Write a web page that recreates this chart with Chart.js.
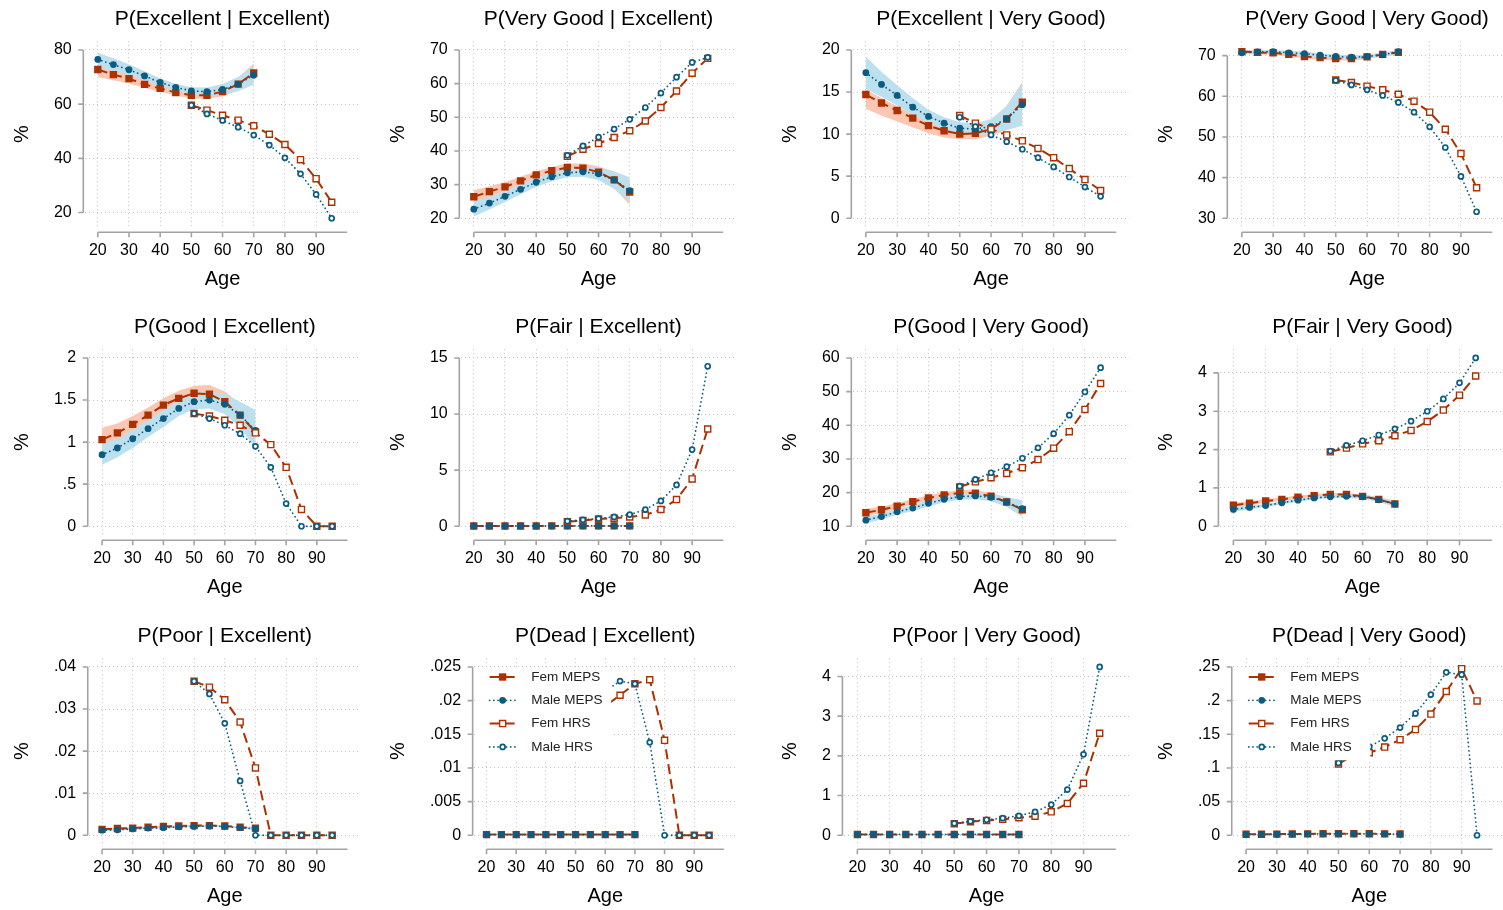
<!DOCTYPE html>
<html>
<head>
<meta charset="utf-8">
<script src="https://cdn.jsdelivr.net/npm/chart.js@4.4.1/dist/chart.umd.min.js"></script>
<style>
  html, body { margin: 0; padding: 0; background: #fff; width: 1503px; height: 910px; overflow: hidden; }
  canvas.panel { position: absolute; }
</style>
</head>
<body>
<script>
// ages on the x axis
const agesMeps = [20, 25, 30, 35, 40, 45, 50, 55, 60, 65, 70];
const agesHrs = [50, 55, 60, 65, 70, 75, 80, 85, 90, 95];
const ageTicks = [20, 30, 40, 50, 60, 70, 80, 90];

// P(Excellent | Excellent)
const exExTicks = [20, 40, 60, 80];
const exExFemMeps = [72.8, 70.9, 69.4, 67.3, 65.8, 64.3, 63.3, 63.3, 64.6, 67.4, 71.5];
const exExMaleMeps = [76.5, 74.6, 72.7, 70.4, 68.0, 66.2, 64.9, 64.6, 65.4, 67.4, 70.7];
const exExFemHrs = [59.6, 57.8, 55.9, 54.1, 52.0, 48.9, 45.1, 39.5, 32.5, 23.8];
const exExMaleHrs = [59.6, 56.4, 54.0, 51.5, 48.6, 44.9, 40.2, 34.3, 26.7, 17.9];
const exExFemLo = [70.0, 68.8, 67.6, 66.0, 64.6, 63.2, 62.1, 62.0, 62.8, 65.0, 68.0];
const exExFemHi = [75.0, 72.9, 71.2, 68.8, 67.1, 65.5, 64.5, 64.7, 66.5, 69.8, 75.0];
const exExMaleLo = [73.5, 72.3, 70.8, 68.8, 66.6, 64.9, 63.6, 63.1, 63.5, 64.8, 67.2];
const exExMaleHi = [79.0, 76.9, 74.7, 72.1, 69.5, 67.5, 66.2, 66.1, 67.4, 70.0, 74.3];

// P(Very Good | Excellent)
const vgExTicks = [20, 30, 40, 50, 60, 70];
const vgExFemMeps = [26.4, 27.9, 29.3, 31.1, 32.9, 34.1, 35.1, 34.9, 33.7, 31.4, 27.8];
const vgExMaleMeps = [22.7, 24.5, 26.5, 28.6, 30.7, 32.3, 33.5, 33.8, 33.2, 31.4, 28.2];
const vgExFemHrs = [38.4, 40.5, 42.2, 44.0, 46.0, 48.9, 52.9, 57.8, 63.1, 67.5];
const vgExMaleHrs = [38.7, 41.5, 44.1, 46.5, 49.4, 52.9, 57.2, 61.9, 66.3, 67.8];
const vgExFemLo = [24.6, 26.3, 28.0, 29.9, 31.8, 33.0, 34.0, 33.6, 32.0, 28.9, 24.0];
const vgExFemHi = [28.3, 29.5, 30.7, 32.3, 34.0, 35.2, 36.3, 36.3, 35.4, 33.9, 31.5];
const vgExMaleLo = [20.5, 22.6, 24.8, 27.1, 29.3, 31.0, 32.2, 32.3, 31.4, 28.7, 24.8];
const vgExMaleHi = [25.0, 26.4, 28.2, 30.1, 32.1, 33.6, 34.8, 35.3, 35.0, 33.9, 32.2];

// P(Excellent | Very Good)
const exVgTicks = [0, 5, 10, 15, 20];
const exVgFemMeps = [14.7, 13.7, 12.8, 11.9, 11.0, 10.4, 10.0, 10.1, 10.6, 11.8, 13.8];
const exVgMaleMeps = [17.3, 15.9, 14.6, 13.2, 12.1, 11.3, 10.7, 10.6, 10.9, 11.8, 13.5];
const exVgFemHrs = [12.2, 11.3, 10.6, 9.9, 9.2, 8.3, 7.2, 5.9, 4.6, 3.3];
const exVgMaleHrs = [12.0, 10.9, 9.9, 9.1, 8.2, 7.2, 6.1, 4.9, 3.7, 2.6];
const exVgFemLo = [13.0, 12.2, 11.5, 10.8, 10.1, 9.6, 9.4, 9.4, 9.8, 10.5, 11.2];
const exVgFemHi = [15.3, 14.3, 13.3, 12.4, 11.6, 10.9, 10.6, 10.8, 11.5, 13.4, 16.2];
const exVgMaleLo = [15.4, 14.4, 13.4, 12.3, 11.4, 10.6, 10.0, 9.9, 10.0, 10.5, 11.0];
const exVgMaleHi = [19.2, 17.4, 15.8, 14.3, 12.9, 12.0, 11.4, 11.3, 11.8, 13.3, 16.0];

// P(Very Good | Very Good)
const vgVgTicks = [30, 40, 50, 60, 70];
const vgVgFemMeps = [71.0, 70.8, 70.7, 70.3, 69.8, 69.5, 69.3, 69.3, 69.7, 70.3, 70.8];
const vgVgMaleMeps = [70.7, 70.9, 71.0, 70.7, 70.5, 70.1, 69.8, 69.6, 69.8, 70.2, 71.0];
const vgVgFemHrs = [64.0, 63.4, 62.5, 61.6, 60.5, 58.8, 56.1, 51.9, 45.9, 37.5];
const vgVgMaleHrs = [63.9, 62.8, 61.6, 60.2, 58.5, 56.1, 52.5, 47.4, 40.3, 31.6];
const vgVgFemLo = [70.5, 70.3, 70.2, 69.8, 69.3, 69.0, 68.8, 68.8, 69.2, 69.8, 70.2];
const vgVgFemHi = [71.4, 71.3, 71.2, 70.8, 70.3, 70.0, 69.8, 69.8, 70.2, 70.8, 71.3];
const vgVgMaleLo = [70.2, 70.4, 70.5, 70.2, 70.0, 69.6, 69.3, 69.1, 69.3, 69.7, 70.4];
const vgVgMaleHi = [71.2, 71.3, 71.4, 71.2, 71.0, 70.6, 70.3, 70.1, 70.3, 70.7, 71.4];

// P(Good | Excellent)
const gdExTicks = [0, 0.5, 1, 1.5, 2];
const gdExFemMeps = [1.03, 1.11, 1.21, 1.32, 1.44, 1.52, 1.58, 1.57, 1.48, 1.32, 1.12];
const gdExMaleMeps = [0.85, 0.93, 1.04, 1.16, 1.28, 1.40, 1.48, 1.50, 1.45, 1.32, 1.14];
const gdExFemHrs = [1.34, 1.31, 1.26, 1.20, 1.11, 0.97, 0.70, 0.20, 0, 0];
const gdExMaleHrs = [1.34, 1.28, 1.20, 1.10, 0.95, 0.70, 0.27, 0, 0, 0];
const gdExFemLo = [0.90, 0.99, 1.10, 1.22, 1.34, 1.43, 1.49, 1.47, 1.37, 1.19, 0.96];
const gdExFemHi = [1.17, 1.22, 1.31, 1.41, 1.52, 1.61, 1.67, 1.68, 1.60, 1.46, 1.30];
const gdExMaleLo = [0.73, 0.82, 0.93, 1.06, 1.18, 1.31, 1.39, 1.40, 1.33, 1.17, 0.93];
const gdExMaleHi = [0.98, 1.04, 1.14, 1.26, 1.38, 1.49, 1.58, 1.60, 1.57, 1.48, 1.38];

// P(Fair | Excellent)
const frExTicks = [0, 5, 10, 15];
const frExFemMeps = [0.02, 0.02, 0.02, 0.02, 0.02, 0.03, 0.03, 0.03, 0.03, 0.03, 0.03];
const frExMaleMeps = [0.02, 0.02, 0.02, 0.02, 0.02, 0.02, 0.03, 0.03, 0.03, 0.03, 0.03];
const frExFemHrs = [0.40, 0.52, 0.65, 0.71, 0.83, 1.00, 1.49, 2.38, 4.22, 8.67];
const frExMaleHrs = [0.45, 0.57, 0.68, 0.83, 1.04, 1.49, 2.26, 3.68, 6.83, 14.26];
const frExFemLo = [0.01, 0.01, 0.01, 0.01, 0.01, 0.01, 0.01, 0.01, 0.01, 0.01, 0.01];
const frExFemHi = [0.04, 0.04, 0.04, 0.04, 0.04, 0.05, 0.05, 0.05, 0.05, 0.05, 0.06];
const frExMaleLo = [0.01, 0.01, 0.01, 0.01, 0.01, 0.01, 0.01, 0.01, 0.01, 0.01, 0.01];
const frExMaleHi = [0.04, 0.04, 0.04, 0.04, 0.04, 0.04, 0.05, 0.05, 0.05, 0.05, 0.06];

// P(Good | Very Good)
const gdVgTicks = [10, 20, 30, 40, 50, 60];
const gdVgFemMeps = [14.0, 14.9, 16.0, 17.3, 18.4, 19.3, 19.9, 19.8, 18.9, 17.2, 14.9];
const gdVgMaleMeps = [11.8, 12.9, 14.3, 15.4, 16.8, 18.0, 18.8, 19.0, 18.6, 17.2, 15.2];
const gdVgFemHrs = [21.7, 23.2, 24.4, 25.7, 27.4, 29.8, 33.2, 38.1, 44.7, 52.4];
const gdVgMaleHrs = [21.9, 23.9, 25.9, 27.7, 30.2, 33.3, 37.5, 43.0, 49.9, 57.1];
const gdVgFemLo = [13.0, 14.0, 15.2, 16.5, 17.6, 18.5, 19.1, 18.9, 17.9, 15.9, 13.2];
const gdVgFemHi = [15.2, 15.9, 16.9, 18.1, 19.2, 20.1, 20.7, 20.8, 19.9, 18.5, 16.7];
const gdVgMaleLo = [10.8, 12.0, 13.4, 14.5, 15.9, 17.1, 17.9, 18.0, 17.4, 15.7, 12.8];
const gdVgMaleHi = [12.9, 13.8, 15.2, 16.3, 17.7, 18.9, 19.7, 20.0, 19.8, 18.7, 17.7];

// P(Fair | Very Good)
const frVgTicks = [0, 1, 2, 3, 4];
const frVgFemMeps = [0.55, 0.60, 0.66, 0.70, 0.76, 0.80, 0.83, 0.83, 0.78, 0.70, 0.58];
const frVgMaleMeps = [0.44, 0.49, 0.54, 0.61, 0.68, 0.74, 0.77, 0.78, 0.77, 0.69, 0.58];
const frVgFemHrs = [1.94, 2.04, 2.15, 2.23, 2.36, 2.50, 2.73, 3.03, 3.42, 3.92];
const frVgMaleHrs = [1.96, 2.11, 2.23, 2.38, 2.54, 2.74, 3.00, 3.32, 3.74, 4.39];
const frVgFemLo = [0.49, 0.55, 0.61, 0.66, 0.72, 0.76, 0.79, 0.79, 0.74, 0.65, 0.51];
const frVgFemHi = [0.61, 0.65, 0.71, 0.75, 0.80, 0.84, 0.87, 0.87, 0.83, 0.76, 0.65];
const frVgMaleLo = [0.38, 0.44, 0.50, 0.57, 0.64, 0.70, 0.73, 0.74, 0.72, 0.63, 0.50];
const frVgMaleHi = [0.50, 0.54, 0.58, 0.65, 0.72, 0.78, 0.81, 0.83, 0.82, 0.76, 0.67];

// P(Poor | Excellent)
const prExTicks = [0, 0.01, 0.02, 0.03, 0.04];
const prExFemMeps = [0.0014, 0.0016, 0.0017, 0.0019, 0.0021, 0.0022, 0.0023, 0.0023, 0.0022, 0.0019, 0.0017];
const prExMaleMeps = [0.0012, 0.0013, 0.0015, 0.0017, 0.0018, 0.0020, 0.0021, 0.0022, 0.0021, 0.0018, 0.0015];
const prExFemHrs = [0.0366, 0.0352, 0.0322, 0.0269, 0.0160, 0, 0, 0, 0, 0];
const prExMaleHrs = [0.0366, 0.0336, 0.0266, 0.0129, 0, 0, 0, 0, 0, 0];
const prExFemLo = [0.0012, 0.0014, 0.0015, 0.0017, 0.0019, 0.0020, 0.0021, 0.0021, 0.0020, 0.0017, 0.0014];
const prExFemHi = [0.0016, 0.0018, 0.0019, 0.0021, 0.0023, 0.0024, 0.0025, 0.0025, 0.0024, 0.0021, 0.0020];
const prExMaleLo = [0.0010, 0.0011, 0.0013, 0.0015, 0.0016, 0.0018, 0.0019, 0.0020, 0.0019, 0.0016, 0.0012];
const prExMaleHi = [0.0014, 0.0015, 0.0017, 0.0019, 0.0020, 0.0022, 0.0023, 0.0024, 0.0023, 0.0020, 0.0018];

// P(Dead | Excellent)
const ddExTicks = [0, 0.005, 0.01, 0.015, 0.02, 0.025];
const ddExFemMeps = [0.0001, 0.0001, 0.0001, 0.0001, 0.0001, 0.0001, 0.0001, 0.0001, 0.0001, 0.0001, 0.0001];
const ddExMaleMeps = [0.0001, 0.0001, 0.0001, 0.0001, 0.0001, 0.0001, 0.0001, 0.0001, 0.0001, 0.0001, 0.0001];
const ddExFemHrs = [0.0150, 0.0172, 0.0192, 0.0208, 0.0225, 0.0231, 0.0141, 0, 0, 0];
const ddExMaleHrs = [0.0172, 0.0195, 0.0214, 0.0229, 0.0225, 0.0138, 0, 0, 0, 0];
const ddExFemLo = [0.00005, 0.00005, 0.00005, 0.00005, 0.00005, 0.00005, 0.00005, 0.00005, 0.00005, 0.00005, 0.00005];
const ddExFemHi = [0.00015, 0.00015, 0.00015, 0.00015, 0.00015, 0.00015, 0.00015, 0.00015, 0.00015, 0.00015, 0.00015];
const ddExMaleLo = [0.00005, 0.00005, 0.00005, 0.00005, 0.00005, 0.00005, 0.00005, 0.00005, 0.00005, 0.00005, 0.00005];
const ddExMaleHi = [0.00015, 0.00015, 0.00015, 0.00015, 0.00015, 0.00015, 0.00015, 0.00015, 0.00015, 0.00015, 0.00015];

// P(Poor | Very Good)
const prVgTicks = [0, 1, 2, 3, 4];
const prVgFemMeps = [0.02, 0.02, 0.02, 0.02, 0.02, 0.02, 0.02, 0.02, 0.02, 0.02, 0.02];
const prVgMaleMeps = [0.02, 0.02, 0.02, 0.02, 0.02, 0.02, 0.02, 0.02, 0.02, 0.02, 0.02];
const prVgFemHrs = [0.29, 0.34, 0.37, 0.40, 0.44, 0.48, 0.59, 0.80, 1.31, 2.57];
const prVgMaleHrs = [0.30, 0.35, 0.39, 0.43, 0.49, 0.59, 0.77, 1.15, 2.04, 4.24];
const prVgFemLo = [0.01, 0.01, 0.01, 0.01, 0.01, 0.01, 0.01, 0.01, 0.01, 0.01, 0.01];
const prVgFemHi = [0.03, 0.03, 0.03, 0.03, 0.03, 0.03, 0.03, 0.03, 0.03, 0.03, 0.04];
const prVgMaleLo = [0.01, 0.01, 0.01, 0.01, 0.01, 0.01, 0.01, 0.01, 0.01, 0.01, 0.01];
const prVgMaleHi = [0.03, 0.03, 0.03, 0.03, 0.03, 0.03, 0.03, 0.03, 0.03, 0.03, 0.04];

// P(Dead | Very Good)
const ddVgTicks = [0, 0.05, 0.1, 0.15, 0.2, 0.25];
const ddVgFemMeps = [0.0015, 0.0015, 0.0017, 0.0018, 0.0020, 0.0022, 0.0023, 0.0023, 0.0023, 0.0020, 0.0018];
const ddVgMaleMeps = [0.0013, 0.0014, 0.0015, 0.0017, 0.0019, 0.0021, 0.0022, 0.0022, 0.0021, 0.0019, 0.0016];
const ddVgFemHrs = [0.106, 0.119, 0.1225, 0.131, 0.142, 0.157, 0.180, 0.2135, 0.2475, 0.1995];
const ddVgMaleHrs = [0.1075, 0.123, 0.1315, 0.144, 0.160, 0.181, 0.209, 0.242, 0.2385, 0];
const ddVgFemLo = [0.0012, 0.0012, 0.0014, 0.0015, 0.0017, 0.0019, 0.0020, 0.0020, 0.0020, 0.0016, 0.0013];
const ddVgFemHi = [0.0018, 0.0018, 0.0020, 0.0021, 0.0023, 0.0025, 0.0026, 0.0026, 0.0026, 0.0024, 0.0023];
const ddVgMaleLo = [0.0010, 0.0011, 0.0012, 0.0014, 0.0016, 0.0018, 0.0019, 0.0019, 0.0018, 0.0015, 0.0011];
const ddVgMaleHi = [0.0016, 0.0017, 0.0018, 0.0020, 0.0022, 0.0024, 0.0025, 0.0025, 0.0024, 0.0023, 0.0021];

const panels = [
  ['P(Excellent | Excellent)', exExTicks, exExFemMeps, exExMaleMeps, exExFemHrs, exExMaleHrs, exExFemLo, exExFemHi, exExMaleLo, exExMaleHi, false],
  ['P(Very Good | Excellent)', vgExTicks, vgExFemMeps, vgExMaleMeps, vgExFemHrs, vgExMaleHrs, vgExFemLo, vgExFemHi, vgExMaleLo, vgExMaleHi, false],
  ['P(Excellent | Very Good)', exVgTicks, exVgFemMeps, exVgMaleMeps, exVgFemHrs, exVgMaleHrs, exVgFemLo, exVgFemHi, exVgMaleLo, exVgMaleHi, false],
  ['P(Very Good | Very Good)', vgVgTicks, vgVgFemMeps, vgVgMaleMeps, vgVgFemHrs, vgVgMaleHrs, vgVgFemLo, vgVgFemHi, vgVgMaleLo, vgVgMaleHi, false],
  ['P(Good | Excellent)', gdExTicks, gdExFemMeps, gdExMaleMeps, gdExFemHrs, gdExMaleHrs, gdExFemLo, gdExFemHi, gdExMaleLo, gdExMaleHi, false],
  ['P(Fair | Excellent)', frExTicks, frExFemMeps, frExMaleMeps, frExFemHrs, frExMaleHrs, frExFemLo, frExFemHi, frExMaleLo, frExMaleHi, false],
  ['P(Good | Very Good)', gdVgTicks, gdVgFemMeps, gdVgMaleMeps, gdVgFemHrs, gdVgMaleHrs, gdVgFemLo, gdVgFemHi, gdVgMaleLo, gdVgMaleHi, false],
  ['P(Fair | Very Good)', frVgTicks, frVgFemMeps, frVgMaleMeps, frVgFemHrs, frVgMaleHrs, frVgFemLo, frVgFemHi, frVgMaleLo, frVgMaleHi, false],
  ['P(Poor | Excellent)', prExTicks, prExFemMeps, prExMaleMeps, prExFemHrs, prExMaleHrs, prExFemLo, prExFemHi, prExMaleLo, prExMaleHi, false],
  ['P(Dead | Excellent)', ddExTicks, ddExFemMeps, ddExMaleMeps, ddExFemHrs, ddExMaleHrs, ddExFemLo, ddExFemHi, ddExMaleLo, ddExMaleHi, true],
  ['P(Poor | Very Good)', prVgTicks, prVgFemMeps, prVgMaleMeps, prVgFemHrs, prVgMaleHrs, prVgFemLo, prVgFemHi, prVgMaleLo, prVgMaleHi, false],
  ['P(Dead | Very Good)', ddVgTicks, ddVgFemMeps, ddVgMaleMeps, ddVgFemHrs, ddVgMaleHrs, ddVgFemLo, ddVgFemHi, ddVgMaleLo, ddVgMaleHi, true]
];

// page grid
const colLeft = [10, 386, 778, 1154];
const colWidth = [356, 356, 357, 357];
const rowTop = [0, 308, 617];
const panelHeight = 302;

const RED = '#ad3000';
const BLUE = '#0b5c80';
const RED_BAND = '#fbc6b2';
const BLUE_BAND = '#bde0ef';
const GRID = '#c4c4c4';
const AXIS = '#a3a3a3';
const FEM_DASH = [10, 5];
const MALE_DASH = [0.01, 4.2];

Chart.defaults.font.family = '"Liberation Sans", Arial, Helvetica, sans-serif';
Chart.defaults.color = '#000';

function stataNum(v) {
  return String(+(+v).toFixed(4)).replace(/^0\./, '.').replace(/^-0\./, '-.');
}

function points(ages, vals) {
  return ages.map((a, i) => ({ x: a, y: vals[i] }));
}

// outward axis lines (only over the tick range), tick marks, panel title, legend box
const stataFrame = {
  id: 'stataFrame',
  afterDatasetsDraw(chart, args, opts) {
    if (!opts.legend) return;
    const { ctx, chartArea: a } = chart;
    ctx.save();
    ctx.fillStyle = '#fff';
    ctx.fillRect(a.left + 1, a.top + 12, 136, 90);
    chart.data.datasets.filter(d => d.label).forEach((d, i) => {
      const y = a.top + 18.8 + i * 23.3;
      const x0 = a.left + 15.5, x1 = a.left + 42, xm = a.left + 28.5;
      ctx.strokeStyle = d.borderColor;
      ctx.lineWidth = d.borderWidth;
      ctx.lineCap = d.borderCapStyle || 'butt';
      ctx.setLineDash(d.borderDash);
      ctx.beginPath();
      ctx.moveTo(x0, y);
      ctx.lineTo(x1, y);
      ctx.stroke();
      ctx.setLineDash([]);
      ctx.lineCap = 'butt';
      ctx.fillStyle = d.pointBackgroundColor;
      ctx.strokeStyle = d.pointBorderColor;
      ctx.lineWidth = d.pointBorderWidth;
      ctx.beginPath();
      if (d.pointStyle === 'rect') {
        const s = d.pointRadius * Math.SQRT1_2;
        ctx.rect(xm - s, y - s, 2 * s, 2 * s);
      } else {
        ctx.arc(xm, y, d.pointRadius, 0, Math.PI * 2);
      }
      ctx.fill();
      if (d.pointBorderWidth > 0) ctx.stroke();
      ctx.fillStyle = '#222';
      ctx.font = '13.5px "Liberation Sans", Arial, sans-serif';
      ctx.textAlign = 'left';
      ctx.textBaseline = 'middle';
      ctx.fillText(d.label, a.left + 57, y);
    });
    ctx.restore();
  },
  afterDraw(chart, args, opts) {
    const { ctx, chartArea: a, scales: { x, y } } = chart;
    const ticks = opts.ticks;
    ctx.save();
    ctx.strokeStyle = AXIS;
    ctx.lineWidth = 1.6;
    ctx.beginPath();
    const ax = a.left - 1.5;
    ctx.moveTo(ax, y.getPixelForValue(ticks[ticks.length - 1]));
    ctx.lineTo(ax, y.getPixelForValue(ticks[0]));
    ticks.forEach(t => {
      const py = y.getPixelForValue(t);
      ctx.moveTo(ax - 5, py);
      ctx.lineTo(ax, py);
    });
    const ay = a.bottom + 5.2;
    ctx.moveTo(x.getPixelForValue(20), ay);
    ctx.lineTo(x.getPixelForValue(100), ay);
    ageTicks.forEach(t => {
      const px = x.getPixelForValue(t);
      ctx.moveTo(px, ay);
      ctx.lineTo(px, ay + 5);
    });
    ctx.stroke();
    ctx.fillStyle = '#000';
    ctx.font = '21px "Liberation Sans", Arial, sans-serif';
    ctx.textAlign = 'center';
    ctx.textBaseline = 'middle';
    ctx.fillText(opts.title, (a.left + a.right) / 2, 19.5);
    ctx.restore();
  }
};

panels.forEach((p, idx) => {
  const [title, ticks, femMeps, maleMeps, femHrs, maleHrs, femLo, femHi, maleLo, maleHi, legend] = p;
  const col = idx % 4, row = Math.floor(idx / 4);

  // value range covers the data, the bands and the labelled ticks
  const all = [...ticks, ...femMeps, ...maleMeps, ...femHrs, ...maleHrs, ...femLo, ...femHi, ...maleLo, ...maleHi];
  const lo = Math.min(...all), hi = Math.max(...all);
  const pad = (hi - lo) * 0.052;

  const canvas = document.createElement('canvas');
  canvas.className = 'panel';
  canvas.width = colWidth[col];
  canvas.height = panelHeight;
  canvas.style.left = colLeft[col] + 'px';
  canvas.style.top = rowTop[row] + 'px';
  canvas.style.width = colWidth[col] + 'px';
  canvas.style.height = panelHeight + 'px';
  document.body.appendChild(canvas);

  const band = (vals, color, fill, order) => ({
    data: points(agesMeps, vals),
    fill: fill,
    backgroundColor: color,
    borderColor: 'rgba(0,0,0,0)',
    borderWidth: 0,
    pointRadius: 0,
    order: order
  });

  const datasets = [
    band(femHi, RED_BAND, '+1', 6),
    band(femLo, RED_BAND, false, 6),
    band(maleHi, BLUE_BAND, '+1', 5),
    band(maleLo, BLUE_BAND, false, 5),
    {
      label: 'Fem MEPS', data: points(agesMeps, femMeps), order: 4,
      borderColor: RED, borderWidth: 2, borderDash: FEM_DASH,
      pointStyle: 'rect', pointRadius: 5.2, pointBackgroundColor: RED, pointBorderColor: RED, pointBorderWidth: 0
    },
    {
      label: 'Male MEPS', data: points(agesMeps, maleMeps), order: 3,
      borderColor: BLUE, borderWidth: 1.8, borderDash: MALE_DASH, borderCapStyle: 'round',
      pointStyle: 'circle', pointRadius: 3.4, pointBackgroundColor: BLUE, pointBorderColor: BLUE, pointBorderWidth: 0
    },
    {
      label: 'Fem HRS', data: points(agesHrs, femHrs), order: 2,
      borderColor: RED, borderWidth: 2, borderDash: FEM_DASH,
      pointStyle: 'rect', pointRadius: 4.3, pointBackgroundColor: '#fff', pointBorderColor: RED, pointBorderWidth: 1.4
    },
    {
      label: 'Male HRS', data: points(agesHrs, maleHrs), order: 1,
      borderColor: BLUE, borderWidth: 1.8, borderDash: MALE_DASH, borderCapStyle: 'round',
      pointStyle: 'circle', pointRadius: 2.5, pointBackgroundColor: '#fff', pointBorderColor: BLUE, pointBorderWidth: 1.7
    }
  ];

  new Chart(canvas, {
    type: 'line',
    data: { datasets },
    options: {
      responsive: false,
      animation: false,
      events: [],
      elements: { line: { tension: 0 } },
      layout: { padding: { top: 41.2, left: 0, right: 0, bottom: 0 } },
      plugins: {
        legend: { display: false },
        tooltip: { enabled: false },
        stataFrame: { title: title, ticks: ticks, legend: legend }
      },
      scales: {
        x: {
          type: 'linear',
          min: 15.83,
          max: 104.17,
          afterBuildTicks: s => { s.ticks = ageTicks.map(v => ({ value: v })); },
          afterFit: s => { s.height = 75; },
          grid: { color: GRID, lineWidth: 1, drawTicks: false },
          border: { display: false, dash: [1, 3] },
          ticks: { font: { size: 16 }, color: '#000', padding: 13.6, maxRotation: 0, autoSkip: false },
          title: { display: true, text: 'Age', font: { size: 20 }, color: '#000', padding: { top: 0, bottom: 10.8 } }
        },
        y: {
          min: lo - pad,
          max: hi + pad,
          afterBuildTicks: s => { s.ticks = ticks.map(v => ({ value: v })); },
          grid: { color: GRID, lineWidth: 1, drawTicks: false },
          border: { display: false, dash: [1, 3] },
          ticks: { font: { size: 16 }, color: '#000', padding: 13.1, callback: v => stataNum(v) },
          title: { display: true, text: '%', font: { size: 20 }, color: '#000', padding: { top: 0, bottom: 6.8 } }
        }
      }
    },
    plugins: [stataFrame]
  });
});
</script>
</body>
</html>
